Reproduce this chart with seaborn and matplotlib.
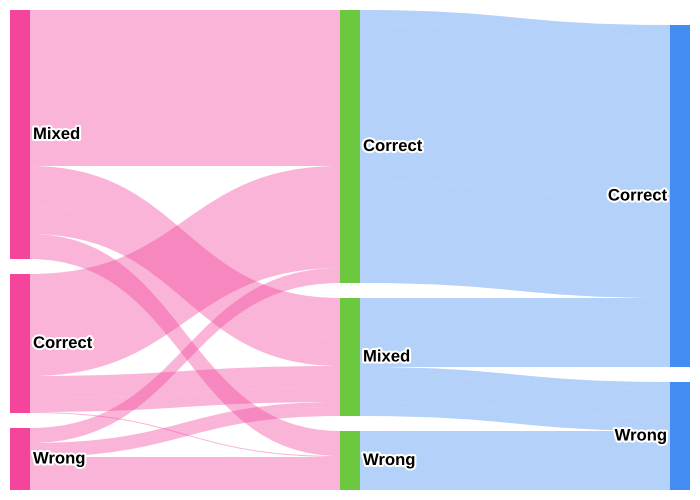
import matplotlib.pyplot as plt
import matplotlib.patheffects as pe
from matplotlib.path import Path
from matplotlib.patches import PathPatch, Rectangle
import seaborn as sns

sns.set_theme(style="white")
plt.rcParams['font.family'] = ['Liberation Sans', 'DejaVu Sans']

# nodes per column (top to bottom)
left_nodes = ['Mixed', 'Correct', 'Wrong']
mid_nodes = ['Correct', 'Mixed', 'Wrong']
right_nodes = ['Correct', 'Wrong']

# links: (source, target, value) -- stage 1 left -> middle
stage1_src = ['Mixed', 'Mixed', 'Mixed', 'Mixed', 'Correct', 'Correct', 'Correct', 'Correct',
              'Wrong', 'Wrong', 'Wrong', 'Wrong']
stage1_tgt = ['Correct', 'Mixed', 'Mixed', 'Wrong', 'Correct', 'Mixed', 'Mixed', 'Wrong',
              'Correct', 'Mixed', 'Mixed', 'Wrong']
stage1_val = [156, 40, 28, 25, 102, 22, 14, 1, 15, 5, 9, 33]

# stage 2 middle -> right
stage2_src = ['Correct', 'Correct', 'Correct', 'Mixed', 'Mixed', 'Mixed', 'Mixed', 'Mixed',
              'Wrong', 'Wrong']
stage2_tgt = ['Correct', 'Correct', 'Correct', 'Correct', 'Correct', 'Wrong', 'Wrong', 'Wrong',
              'Wrong', 'Wrong']
stage2_val = [14, 158, 101, 39, 30, 6, 29, 14, 33, 26]

node_colors = ['#F4449C', '#6CC93F', '#438CF1']
link_colors = ['#F4449C', '#438CF1']
W, H = 700, 500
top, bottom, left, right = 10, 490, 10, 690
node_w, pad = 20, 15

columns = [left_nodes, mid_nodes, right_nodes]
stages = [(stage1_src, stage1_tgt, stage1_val), (stage2_src, stage2_tgt, stage2_val)]

# node sizes = max(inflow, outflow)
outflow = [dict(), dict(), dict()]
inflow = [dict(), dict(), dict()]
for s, (src, tgt, val) in enumerate(stages):
    for a, b, v in zip(src, tgt, val):
        outflow[s][a] = outflow[s].get(a, 0) + v
        inflow[s + 1][b] = inflow[s + 1].get(b, 0) + v
sizes = [{n: max(outflow[i].get(n, 0), inflow[i].get(n, 0)) for n in c}
         for i, c in enumerate(columns)]
scale = min((bottom - top - pad * (len(c) - 1)) / sum(sizes[i].values())
            for i, c in enumerate(columns))

node_pos = []
for i, col in enumerate(columns):
    x = left + i * (right - left - node_w) / (len(columns) - 1)
    total = sum(sizes[i][n] for n in col) * scale + pad * (len(col) - 1)
    y = bottom - total
    pos = {}
    for n in col:
        h = sizes[i][n] * scale
        pos[n] = [x, y, h]
        y += h + pad
    node_pos.append(pos)

fig = plt.figure(figsize=(7, 5), dpi=100)
ax = fig.add_axes([0, 0, 1, 1])
ax.set_xlim(0, W)
ax.set_ylim(H, 0)
ax.axis('off')

# links
for s, (src, tgt, val) in enumerate(stages):
    spos, tpos = node_pos[s], node_pos[s + 1]
    scol, tcol = columns[s], columns[s + 1]
    s_off = {n: 0 for n in scol}
    t_off = {n: 0 for n in tcol}
    out_y, in_y = {}, {}
    for k in sorted(range(len(val)), key=lambda k: (scol.index(src[k]), tcol.index(tgt[k]), k)):
        out_y[k] = spos[src[k]][1] + s_off[src[k]]
        s_off[src[k]] += val[k] * scale
    for k in sorted(range(len(val)), key=lambda k: (tcol.index(tgt[k]), scol.index(src[k]), k)):
        in_y[k] = tpos[tgt[k]][1] + t_off[tgt[k]]
        t_off[tgt[k]] += val[k] * scale
    for k in range(len(val)):
        h = val[k] * scale
        x0 = spos[src[k]][0] + node_w
        x1 = tpos[tgt[k]][0]
        xm = (x0 + x1) / 2
        y0, y1 = out_y[k], in_y[k]
        verts = [(x0, y0), (xm, y0), (xm, y1), (x1, y1),
                 (x1, y1 + h), (xm, y1 + h), (xm, y0 + h), (x0, y0 + h), (x0, y0)]
        codes = [Path.MOVETO, Path.CURVE4, Path.CURVE4, Path.CURVE4,
                 Path.LINETO, Path.CURVE4, Path.CURVE4, Path.CURVE4, Path.CLOSEPOLY]
        ax.add_patch(PathPatch(Path(verts, codes), facecolor=link_colors[s], alpha=0.4,
                               edgecolor='none', lw=0))

# nodes and labels
halo = [pe.withStroke(linewidth=3, foreground='white')]
for i, col in enumerate(columns):
    for n in col:
        x, y, h = node_pos[i][n]
        ax.add_patch(Rectangle((x, y), node_w, h, facecolor=node_colors[i], edgecolor='none'))
        if i < len(columns) - 1:
            ax.text(x + node_w + 3, y + h / 2, n, ha='left', va='center', fontsize=12,
                    fontweight='bold', color='black', path_effects=halo)
        else:
            ax.text(x - 3, y + h / 2, n, ha='right', va='center', fontsize=12,
                    fontweight='bold', color='black', path_effects=halo)

plt.savefig('out.png', dpi=100)
plt.close()
